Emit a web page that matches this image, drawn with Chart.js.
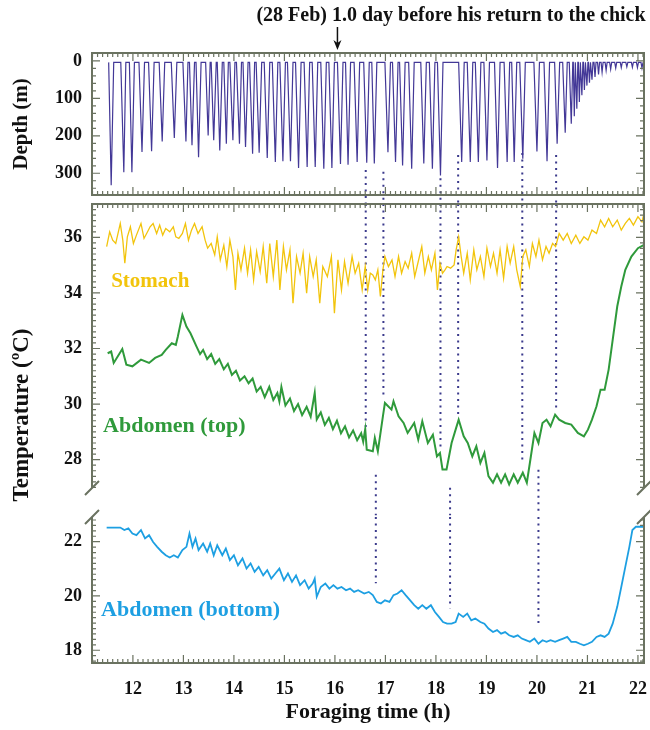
<!DOCTYPE html>
<html><head><meta charset="utf-8">
<script src="https://cdn.jsdelivr.net/npm/chart.js@4.4.1/dist/chart.umd.min.js"></script>
<style>
html,body{margin:0;padding:0;background:#fff;width:650px;height:730px;overflow:hidden}
#wrap{position:relative;width:650px;height:730px}
canvas{position:absolute;left:0}
</style></head><body>
<div id="wrap">
<canvas id="c1" width="650" height="205" style="top:0px"></canvas>
<canvas id="c2" width="650" height="330" style="top:195px"></canvas>
<canvas id="c3" width="650" height="250" style="top:480px"></canvas>
</div>
<script>
// ---------------- data ----------------
const xTicks = [12,13,14,15,16,17,18,19,20,21,22];
const depthTicks = [0,100,200,300];
const tempTopTicks = [28,30,32,34,36];
const tempBotTicks = [18,20,22];

const surfaceDepth = 4;
const diveBottomT = [11.57,11.82,11.98,12.18,12.37,12.58,12.82,13.05,13.17,13.30,13.49,13.60,13.72,13.85,13.98,14.11,14.23,14.37,14.50,14.66,14.82,14.97,15.12,15.28,15.45,15.61,15.78,15.94,16.11,16.26,16.44,16.63,16.78,17.05,17.20,17.34,17.52,17.76,17.93,18.09,18.51,18.68,18.84,19.01,19.22,19.41,19.55,19.72,20.00,20.20,20.40,20.56,20.68,20.74,20.79,20.84,20.89,20.94,20.99,21.04,21.09,21.15,21.22,21.29,21.37,21.46,21.56,21.67,21.78,21.89,21.99,22.08];
const diveDepth   = [332,297,297,243,241,215,206,215,225,257,199,212,239,221,212,221,230,248,245,259,270,268,268,286,283,283,288,286,275,277,270,272,274,244,270,279,288,274,288,306,270,270,270,266,286,270,270,261,242,268,221,192,168,148,128,110,92,78,66,58,50,43,36,30,25,22,19,18,16,17,18,19];
const diveStartT  = [11.52,11.76,11.93,12.12,12.31,12.52,12.76,12.99,13.12,13.25,13.44,13.55,13.67,13.80,13.92,14.05,14.18,14.31,14.44,14.60,14.76,14.91,15.06,15.22,15.39,15.55,15.72,15.88,16.05,16.21,16.38,16.57,16.73,16.99,17.14,17.28,17.46,17.70,17.87,18.03,18.45,18.62,18.78,18.95,19.16,19.35,19.50,19.66,19.94,20.14,20.35,20.51,20.64,20.72,20.77,20.82,20.87,20.92,20.97,21.02,21.07,21.13,21.20,21.27,21.35,21.44,21.54,21.65,21.76,21.87,21.97,22.06];
const diveEndT    = [11.62,11.86,12.03,12.23,12.42,12.63,12.87,13.09,13.22,13.35,13.53,13.65,13.77,13.89,14.02,14.15,14.28,14.41,14.55,14.71,14.87,15.02,15.17,15.33,15.50,15.66,15.83,15.99,16.16,16.31,16.49,16.68,16.83,17.10,17.25,17.39,17.57,17.81,17.98,18.14,18.56,18.73,18.89,19.06,19.27,19.46,19.60,19.77,20.05,20.25,20.45,20.60,20.71,20.76,20.81,20.86,20.91,20.96,21.01,21.06,21.11,21.17,21.24,21.31,21.39,21.48,21.58,21.69,21.80,21.91,22.01,22.10];

const stomachT = [11.48,11.54,11.60,11.66,11.75,11.80,11.84,11.89,11.95,12.01,12.07,12.16,12.22,12.29,12.34,12.40,12.47,12.53,12.59,12.65,12.73,12.80,12.85,12.91,12.98,13.04,13.10,13.16,13.22,13.29,13.37,13.43,13.48,13.55,13.62,13.67,13.73,13.80,13.86,13.92,13.98,14.03,14.08,14.14,14.21,14.27,14.33,14.39,14.45,14.52,14.58,14.65,14.71,14.78,14.85,14.91,14.98,15.04,15.11,15.17,15.24,15.31,15.37,15.44,15.50,15.57,15.63,15.70,15.76,15.85,15.93,15.99,16.06,16.13,16.19,16.26,16.34,16.40,16.47,16.54,16.60,16.65,16.70,16.75,16.80,16.85,16.90,16.95,16.99,17.06,17.13,17.19,17.26,17.32,17.39,17.45,17.52,17.58,17.65,17.72,17.78,17.85,17.91,17.98,18.03,18.08,18.13,18.18,18.22,18.29,18.36,18.40,18.45,18.50,18.55,18.62,18.68,18.75,18.81,18.88,18.95,19.01,19.08,19.14,19.21,19.27,19.34,19.41,19.47,19.54,19.60,19.67,19.72,19.78,19.85,19.91,19.98,20.04,20.11,20.18,20.24,20.31,20.37,20.44,20.52,20.60,20.68,20.77,20.85,20.93,21.01,21.09,21.18,21.26,21.34,21.42,21.50,21.59,21.67,21.75,21.83,21.91,22.00,22.08,22.12];
const stomachC = [35.67,36.20,35.90,35.78,36.50,35.90,35.07,36.02,36.38,35.78,36.08,36.50,35.96,36.20,36.38,36.50,36.14,36.44,36.08,36.32,36.20,36.38,36.02,35.96,36.14,36.50,35.90,36.26,36.50,36.14,36.38,35.90,35.61,35.78,35.37,36.02,35.19,35.72,34.95,35.90,35.31,34.11,35.43,34.83,35.61,34.71,35.55,34.47,35.49,34.77,35.67,34.35,35.78,34.59,35.90,34.11,35.67,34.83,35.55,33.63,35.31,34.71,35.43,33.99,35.31,34.59,35.19,33.63,34.95,34.59,35.31,33.27,35.19,34.11,35.13,34.35,35.31,34.71,35.07,34.11,34.95,34.11,34.71,34.65,34.47,34.83,33.87,34.83,35.31,34.95,35.19,34.59,35.31,34.71,35.13,34.89,35.43,34.59,35.13,35.67,34.71,35.31,34.83,35.43,34.11,35.07,34.71,34.83,34.95,34.89,35.01,35.55,36.02,35.31,34.71,35.43,34.47,35.55,34.83,35.31,34.59,35.61,34.95,35.43,34.71,35.55,34.53,35.67,35.07,35.67,34.83,34.23,35.31,35.55,34.95,35.78,35.31,35.90,35.19,35.67,35.43,35.78,35.67,36.14,35.90,36.14,35.78,36.08,35.78,36.02,35.90,36.26,36.14,36.62,36.38,36.68,36.38,36.62,36.26,36.50,36.68,36.44,36.74,36.56,36.86];

const abdTopT = [11.50,11.57,11.62,11.79,11.87,11.99,12.16,12.32,12.44,12.57,12.65,12.77,12.85,12.89,12.98,13.06,13.14,13.26,13.33,13.39,13.47,13.55,13.63,13.71,13.80,13.88,13.96,14.04,14.12,14.21,14.29,14.37,14.45,14.53,14.61,14.70,14.78,14.86,14.90,14.94,15.02,15.11,15.19,15.27,15.35,15.44,15.52,15.60,15.64,15.72,15.80,15.88,15.96,16.04,16.12,16.20,16.28,16.36,16.44,16.52,16.56,16.60,16.63,16.75,16.79,16.85,16.95,16.99,17.12,17.16,17.26,17.36,17.44,17.57,17.65,17.73,17.84,17.94,18.02,18.08,18.13,18.21,18.31,18.39,18.45,18.55,18.63,18.72,18.80,18.88,18.96,19.04,19.13,19.21,19.29,19.37,19.45,19.54,19.62,19.72,19.80,19.86,19.95,20.03,20.11,20.19,20.27,20.36,20.44,20.56,20.68,20.81,20.93,21.01,21.09,21.18,21.26,21.34,21.42,21.50,21.59,21.67,21.75,21.87,22.00,22.12];
const abdTopC = [31.83,31.89,31.48,31.98,31.42,31.36,31.60,31.48,31.66,31.77,31.95,32.19,32.13,32.43,33.21,32.79,32.55,32.07,31.80,31.95,31.62,31.80,31.45,31.62,31.25,31.45,31.05,31.20,30.85,31.00,30.75,30.92,30.45,30.62,30.25,30.62,30.15,30.40,30.10,30.62,29.95,30.20,29.75,30.00,29.60,29.90,29.55,30.40,29.45,29.70,29.25,29.50,29.10,29.40,28.95,29.20,28.80,29.05,28.70,28.95,28.65,29.10,28.36,28.30,28.78,28.30,29.56,30.04,29.80,30.10,29.56,29.32,28.96,29.32,28.72,29.38,28.60,28.90,28.12,28.24,27.65,27.65,28.60,29.08,29.44,28.84,28.60,28.12,28.48,27.88,28.24,27.41,27.17,27.47,27.17,27.47,27.11,27.47,27.17,27.53,27.17,27.88,28.96,28.60,29.32,29.44,29.20,29.62,29.44,29.32,29.26,28.96,28.84,29.08,29.44,29.92,30.52,30.52,31.24,32.31,33.51,34.23,34.83,35.31,35.61,35.73];

const abdBotT = [11.48,11.75,11.83,11.91,11.99,12.07,12.16,12.24,12.32,12.40,12.48,12.57,12.65,12.73,12.81,12.89,12.98,13.06,13.12,13.18,13.24,13.30,13.39,13.47,13.53,13.60,13.67,13.77,13.84,13.92,14.00,14.08,14.17,14.25,14.33,14.41,14.49,14.58,14.66,14.74,14.82,14.90,14.99,15.07,15.15,15.23,15.31,15.40,15.48,15.56,15.60,15.64,15.72,15.81,15.89,15.97,16.05,16.13,16.22,16.30,16.38,16.46,16.58,16.67,16.75,16.83,16.91,16.99,17.08,17.16,17.24,17.32,17.40,17.49,17.57,17.65,17.73,17.81,17.90,17.98,18.06,18.14,18.22,18.31,18.39,18.45,18.54,18.62,18.70,18.78,18.88,18.96,19.04,19.13,19.21,19.29,19.37,19.45,19.54,19.62,19.70,19.78,19.86,19.95,20.03,20.11,20.19,20.27,20.36,20.44,20.52,20.60,20.68,20.77,20.85,20.93,21.01,21.09,21.18,21.26,21.34,21.42,21.50,21.59,21.67,21.75,21.83,21.89,21.96,22.12];
const abdBotC = [22.52,22.52,22.43,22.49,22.30,22.24,22.43,22.12,22.24,21.99,21.81,21.63,21.50,21.42,21.50,21.42,21.69,21.81,22.30,21.81,22.12,21.69,21.93,21.63,21.93,21.50,21.87,21.50,21.75,21.32,21.50,21.13,21.38,21.01,21.20,20.89,21.07,20.76,20.95,20.64,20.83,21.01,20.58,20.83,20.52,20.76,20.40,20.58,20.27,20.46,20.64,19.97,20.33,20.46,20.27,20.40,20.27,20.33,20.21,20.27,20.15,20.21,20.09,20.15,20.03,19.78,19.72,19.84,19.78,20.03,20.09,20.21,20.03,19.84,19.66,19.53,19.66,19.53,19.66,19.41,19.23,19.04,18.98,18.98,19.04,19.35,19.23,19.35,19.10,19.17,19.04,18.98,18.80,18.67,18.74,18.61,18.67,18.55,18.49,18.55,18.43,18.37,18.31,18.43,18.24,18.37,18.31,18.37,18.31,18.37,18.43,18.49,18.31,18.31,18.24,18.18,18.24,18.31,18.49,18.55,18.49,18.61,18.98,19.60,20.33,21.07,21.81,22.43,22.55,22.55];

// dotted markers: dive times and where the dotted lines run
const markT = [16.61,16.96,18.09,18.44,19.71,20.38];
const markDepthStart = [291,296,313,251,246,251];
const markTopEnd = [29.08,30.23,28.47,29.62,27.90,29.73];
const lagT = [16.81,18.28,20.03];
const lagTopStart = [27.46,26.99,27.64];
const lagBotEnd = [20.47,19.55,18.92];

const X_MIN = 11.19, X_MAX = 22.12;
const DEPTH_MIN = -21, DEPTH_MAX = 358;
const TOP_MIN = 26.98, TOP_MAX = 37.2;
const BOT_MIN = 17.53, BOT_MAX = 22.91;
const arrowT = 16.05;

// ---------------- style ----------------
const SERIF = "'Liberation Serif','Times New Roman',serif";
const FRAME = '#6a7260';
const DOT = '#3b3a8c';
const C_DEPTH = '#433897', C_STOM = '#f2c40c', C_TOP = '#2f9a3b', C_BOT = '#1d9fe2';
Chart.defaults.font.family = SERIF;
Chart.defaults.color = '#111';

const pts = (xs, ys) => xs.map((x, i) => ({x, y: ys[i]}));
const segs = (ts, a, b) => { const d = []; ts.forEach((t, i) => { d.push({x: t, y: a[i]}, {x: t, y: b[i]}, {x: t, y: null}); }); return d; };
const depthProfile = [];
diveBottomT.forEach((t, i) => {
  depthProfile.push({x: diveStartT[i], y: surfaceDepth}, {x: t, y: diveDepth[i]}, {x: diveEndT[i], y: surfaceDepth});
});

function dotted(data) {
  return {data, borderColor: DOT, borderWidth: 2, borderDash: [2, 4.5], pointRadius: 0, clip: false, spanGaps: false};
}
function line(data, color, w) {
  return {data, borderColor: color, borderWidth: w, pointRadius: 0, tension: 0};
}

function frame(chart, o) {
  const {ctx, chartArea: a, scales} = chart;
  const xs = scales.x, ys = scales.y;
  ctx.save();
  ctx.strokeStyle = FRAME;
  ctx.lineWidth = 1.2;
  ctx.beginPath();
  for (let k = Math.ceil(xs.min * 10); k <= Math.floor(xs.max * 10); k++) {
    const px = xs.getPixelForValue(k / 10);
    const len = k % 10 === 0 ? 8 : 4;
    if (o.top) { ctx.moveTo(px, a.top); ctx.lineTo(px, a.top + len); }
    if (o.bottom) { ctx.moveTo(px, a.bottom); ctx.lineTo(px, a.bottom - len); }
  }
  const lo = Math.min(ys.min, ys.max), hi = Math.max(ys.min, ys.max);
  for (let k = Math.ceil(lo / o.yMinor - 1e-6); k <= Math.floor(hi / o.yMinor + 1e-6); k++) {
    const v = k * o.yMinor;
    const r = v / o.yMajor;
    const len = Math.abs(r - Math.round(r)) < 1e-6 ? 8 : 4;
    const py = ys.getPixelForValue(v);
    ctx.moveTo(a.left, py); ctx.lineTo(a.left + len, py);
    ctx.moveTo(a.right, py); ctx.lineTo(a.right - len, py);
  }
  ctx.stroke();
  ctx.lineWidth = 2;
  ctx.beginPath();
  if (o.top) { ctx.moveTo(a.left - 1, a.top); ctx.lineTo(a.right + 1, a.top); }
  if (o.bottom) { ctx.moveTo(a.left - 1, a.bottom); ctx.lineTo(a.right + 1, a.bottom); }
  ctx.moveTo(a.left, a.top); ctx.lineTo(a.left, a.bottom);
  ctx.moveTo(a.right, a.top); ctx.lineTo(a.right, a.bottom);
  if (o.breakBottom) {
    [a.left, a.right].forEach(x => { ctx.moveTo(x - 7, a.bottom + 7); ctx.lineTo(x + 7, a.bottom - 7); });
  }
  if (o.breakTop) {
    [a.left, a.right].forEach(x => { ctx.moveTo(x - 7, a.top + 7); ctx.lineTo(x + 7, a.top - 7); });
  }
  ctx.stroke();
  ctx.restore();
}
function vtext(ctx, text, x, y, size) {
  ctx.save();
  ctx.translate(x, y); ctx.rotate(-Math.PI / 2);
  ctx.font = 'bold ' + size + 'px ' + SERIF; ctx.fillStyle = '#111';
  ctx.textAlign = 'center'; ctx.textBaseline = 'middle';
  ctx.fillText(text, 0, 0);
  ctx.restore();
}
function label(chart, text, t, v, color, size) {
  const ctx = chart.ctx;
  ctx.save();
  ctx.font = 'bold ' + size + 'px ' + SERIF; ctx.fillStyle = color;
  ctx.textAlign = 'left'; ctx.textBaseline = 'middle';
  ctx.fillText(text, chart.scales.x.getPixelForValue(t), chart.scales.y.getPixelForValue(v));
  ctx.restore();
}

const tickFont = {family: SERIF, size: 18, weight: 'bold'};
function yScale(min, max, ticks, reverse) {
  return {
    type: 'linear', min, max, reverse: !!reverse,
    grid: {display: false, drawTicks: false}, border: {display: false},
    ticks: {font: tickFont, color: '#111', padding: 10},
    afterBuildTicks: s => { s.ticks = ticks.map(v => ({value: v})); },
    afterFit: s => { s.width = 92; s.paddingTop = 0; s.paddingBottom = 0; }
  };
}
function xHidden() {
  return {type: 'linear', min: X_MIN, max: X_MAX, display: false};
}
const common = {responsive: false, animation: false, devicePixelRatio: 1,
  plugins: {legend: {display: false}, tooltip: {enabled: false}}, events: []};

// ---------------- chart 1: depth ----------------
new Chart(document.getElementById('c1'), {
  type: 'line',
  data: {datasets: [
    line(depthProfile, C_DEPTH, 1.2),
    dotted(segs(markT, markDepthStart, markT.map(() => 380)))
  ]},
  options: Object.assign({}, common, {
    layout: {padding: {top: 53, bottom: 10, left: 0, right: 6}},
    scales: {x: xHidden(), y: yScale(DEPTH_MIN, DEPTH_MAX, depthTicks, true)}
  }),
  plugins: [{id: 'deco1', afterDatasetsDraw(chart) {
    frame(chart, {top: true, bottom: true, yMinor: 20, yMajor: 100});
    const ctx = chart.ctx;
    vtext(ctx, 'Depth (m)', 22, 124, 21);
    ctx.save();
    ctx.font = 'bold 20px ' + SERIF; ctx.fillStyle = '#111';
    ctx.textAlign = 'center'; ctx.textBaseline = 'middle';
    ctx.fillText('(28 Feb) 1.0 day before his return to the chick', 451, 16);
    const ax = chart.scales.x.getPixelForValue(arrowT);
    ctx.strokeStyle = '#111'; ctx.lineWidth = 1.5;
    ctx.beginPath(); ctx.moveTo(ax, 27); ctx.lineTo(ax, 46); ctx.stroke();
    ctx.fillStyle = '#111';
    ctx.beginPath(); ctx.moveTo(ax, 50); ctx.lineTo(ax - 4, 40); ctx.lineTo(ax, 43); ctx.lineTo(ax + 4, 40); ctx.closePath(); ctx.fill();
    ctx.restore();
  }}]
});

// ---------------- chart 2: stomach + abdomen top ----------------
new Chart(document.getElementById('c2'), {
  type: 'line',
  data: {datasets: [
    line(pts(stomachT, stomachC), C_STOM, 1.3),
    line(pts(abdTopT, abdTopC), C_TOP, 2),
    dotted(segs(markT, markT.map(() => TOP_MAX), markTopEnd)),
    dotted(segs(lagT, lagTopStart, lagT.map(() => 26.0)))
  ]},
  options: Object.assign({}, common, {
    layout: {padding: {top: 9, bottom: 37, left: 0, right: 6}},
    scales: {x: xHidden(), y: yScale(TOP_MIN, TOP_MAX, tempTopTicks)}
  }),
  plugins: [{id: 'deco2', afterDatasetsDraw(chart) {
    frame(chart, {top: true, bottom: false, breakBottom: true, yMinor: 0.2, yMajor: 2});
    label(chart, 'Stomach', 11.57, 34.41, C_STOM, 21);
    label(chart, 'Abdomen (top)', 11.41, 29.2, C_TOP, 22);
    vtext(chart.ctx, 'Temperature (\u00BAC)', 22, 220, 23);
  }}]
});

// ---------------- chart 3: abdomen bottom ----------------
new Chart(document.getElementById('c3'), {
  type: 'line',
  data: {datasets: [
    line(pts(abdBotT, abdBotC), C_BOT, 1.8),
    dotted(segs(lagT, lagT.map(() => BOT_MAX), lagBotEnd))
  ]},
  options: Object.assign({}, common, {
    layout: {padding: {top: 37, bottom: 0, left: 0, right: 6}},
    scales: {
      x: {type: 'linear', min: X_MIN, max: X_MAX,
        grid: {display: false, drawTicks: false}, border: {display: false},
        ticks: {font: tickFont, color: '#111', padding: 16, autoSkip: false, maxRotation: 0},
        afterBuildTicks: s => { s.ticks = xTicks.map(v => ({value: v})); },
        afterFit: s => { s.height = 67; s.paddingLeft = 0; s.paddingRight = 0; }},
      y: yScale(BOT_MIN, BOT_MAX, tempBotTicks)
    }
  }),
  plugins: [{id: 'deco3', afterDatasetsDraw(chart) {
    frame(chart, {top: false, bottom: true, breakTop: true, yMinor: 0.2, yMajor: 2});
    label(chart, 'Abdomen (bottom)', 11.37, 19.47, C_BOT, 22);
    const ctx = chart.ctx, a = chart.chartArea;
    ctx.save();
    ctx.font = 'bold 22px ' + SERIF; ctx.fillStyle = '#111';
    ctx.textAlign = 'center'; ctx.textBaseline = 'middle';
    ctx.fillText('Foraging time (h)', (a.left + a.right) / 2, 232);
    ctx.restore();
  }}]
});
</script>
</body></html>
